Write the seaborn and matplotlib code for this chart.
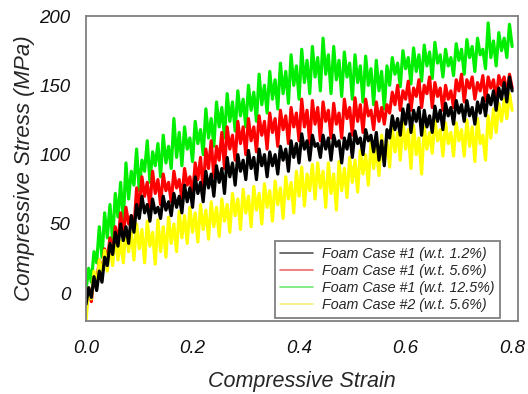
import numpy as np
import pandas as pd
import matplotlib
matplotlib.use("Agg")
import matplotlib.pyplot as plt
from matplotlib.lines import Line2D
import seaborn as sns

# ---------------- data (step 0.005 strain) ----------------
labels = ["Foam Case #1 (w.t. 1.2%)", "Foam Case #1 (w.t. 5.6%)",
          "Foam Case #1 (w.t. 12.5%)", "Foam Case #2 (w.t. 5.6%)"]

stress_green = [
    2, 18, 8, 30, 22, 48, 26, 58, 40, 64,
    38, 72, 55, 80, 52, 94, 68, 88, 78, 104,
    74, 96, 88, 110, 80, 102, 92, 108, 84, 114,
    94, 106, 90, 126, 98, 116, 92, 120, 104, 112,
    95, 124, 108, 118, 100, 133, 112, 126, 106, 138,
    120, 134, 112, 144, 124, 138, 117, 146, 128, 140,
    120, 150, 132, 145, 124, 158, 136, 150, 130, 160,
    140, 154, 133, 166, 144, 160, 137, 172, 150, 164,
    140, 176, 152, 168, 144, 178, 156, 170, 146, 184,
    158, 172, 144, 178, 154, 168, 142, 174, 156, 166,
    140, 172, 152, 164, 138, 171, 150, 162, 136, 168,
    146, 160, 133, 164, 150, 170, 158, 166, 149, 175,
    162, 170, 151, 177, 160, 172, 153, 179, 164, 174,
    155, 181, 166, 172, 156, 176, 164, 170, 157, 180,
    168, 176, 158, 183, 170, 178, 160, 184, 172, 176,
    162, 195, 170, 182, 164, 188, 175, 184, 170, 194,
    178]

stress_red = [
    -14, 4, -6, 14, 8, 24, 14, 32, 24, 40,
    28, 48, 36, 58, 40, 62, 50, 56, 46, 76,
    60, 84, 70, 80, 62, 88, 72, 82, 64, 86,
    74, 80, 66, 88, 76, 82, 68, 90, 78, 84,
    70, 94, 82, 98, 74, 104, 90, 110, 84, 106,
    96, 116, 90, 120, 104, 114, 96, 124, 108, 120,
    100, 126, 110, 120, 102, 128, 114, 124, 104, 130,
    116, 126, 106, 132, 118, 128, 108, 134, 120, 130,
    110, 140, 120, 132, 108, 139, 122, 134, 110, 138,
    124, 132, 112, 137, 122, 130, 112, 140, 126, 134,
    114, 141, 124, 136, 116, 140, 128, 132, 118, 138,
    124, 134, 122, 136, 130, 145, 136, 150, 132, 146,
    140, 153, 132, 148, 142, 154, 134, 150, 144, 156,
    134, 152, 142, 148, 132, 150, 140, 146, 134, 154,
    146, 158, 138, 154, 148, 156, 140, 152, 146, 157,
    139, 156, 148, 154, 140, 157, 150, 156, 143, 158,
    148]

stress_black = [
    -8, 4, -3, 12, 2, 16, 8, 26, 20, 36,
    28, 44, 34, 50, 38, 48, 36, 56, 44, 64,
    54, 70, 58, 64, 52, 68, 58, 62, 54, 70,
    60, 66, 56, 72, 62, 70, 58, 78, 66, 76,
    62, 84, 72, 80, 66, 88, 76, 86, 70, 92,
    80, 90, 72, 98, 84, 94, 78, 100, 88, 96,
    82, 103, 90, 98, 82, 104, 92, 100, 84, 102,
    92, 100, 86, 106, 96, 104, 88, 110, 98, 108,
    94, 115, 104, 110, 96, 114, 106, 108, 98, 114,
    104, 112, 96, 114, 106, 110, 94, 112, 104, 115,
    98, 117, 108, 112, 100, 118, 110, 114, 102, 116,
    96, 110, 92, 118, 112, 128, 118, 126, 114, 133,
    122, 136, 116, 132, 124, 134, 114, 132, 120, 128,
    116, 135, 124, 132, 118, 137, 128, 134, 122, 139,
    130, 136, 124, 139, 128, 134, 122, 138, 130, 141,
    128, 143, 136, 146, 132, 148, 140, 152, 138, 156,
    146]

stress_yellow = [
    -20, 4, -4, 16, 4, 24, 12, 31, 16, 36,
    20, 42, 24, 38, 22, 47, 30, 44, 24, 50,
    32, 46, 22, 52, 34, 44, 21, 53, 30, 48,
    26, 55, 36, 50, 30, 59, 40, 56, 36, 62,
    44, 58, 37, 64, 46, 60, 39, 66, 48, 62,
    41, 68, 52, 64, 44, 72, 56, 68, 46, 75,
    58, 70, 48, 77, 60, 72, 50, 79, 62, 74,
    52, 81, 64, 76, 54, 84, 68, 80, 58, 88,
    70, 91, 63, 86, 74, 93, 68, 94, 76, 88,
    62, 94, 72, 86, 60, 95, 74, 90, 69, 98,
    80, 96, 73, 103, 86, 100, 78, 109, 90, 104,
    85, 114, 96, 110, 91, 120, 102, 116, 96, 125,
    104, 118, 90, 121, 100, 112, 86, 120, 104, 116,
    101, 125, 110, 118, 99, 123, 108, 116, 99, 123,
    110, 118, 99, 125, 106, 120, 95, 126, 108, 114,
    96, 128, 112, 133, 116, 137, 124, 140, 126, 144,
    132]

x_ticks = [0.0, 0.2, 0.4, 0.6, 0.8]
y_ticks = [0, 50, 100, 150, 200]

series = {
    labels[2]: stress_green,
    labels[1]: stress_red,
    labels[3]: stress_yellow,
    labels[0]: stress_black,
}
colors = {labels[0]: "#000000", labels[1]: "#ff0000",
          labels[2]: "#00ee00", labels[3]: "#ffff00"}
legend_colors = {labels[0]: "#555555", labels[1]: "#f26a6a",
                 labels[2]: "#6ee66e", labels[3]: "#f5f07a"}

frames = []
for name, vals in series.items():
    strain = np.linspace(0.0, 0.8, len(vals))
    frames.append(pd.DataFrame({"strain": strain, "stress": vals, "case": name}))
df = pd.concat(frames, ignore_index=True)

# ---------------- plot ----------------
sns.set_style("white")
plt.rcParams["font.family"] = ["Liberation Sans", "DejaVu Sans"]

fig = plt.figure(figsize=(5.28, 3.94), dpi=100)
ax = fig.add_axes([86 / 528, 1 - 321 / 394, 432 / 528, 305 / 394])

for name in series:
    sub = df[df["case"] == name]
    sns.lineplot(data=sub, x="strain", y="stress", ax=ax, color=colors[name],
                 linewidth=2.3, estimator=None, sort=False, legend=False)

ax.set_xlim(0.0, 0.811)
ax.set_ylim(-20, 200)
ax.set_xticks(x_ticks)
ax.set_xticklabels([f"{v:.1f}" for v in x_ticks])
ax.set_yticks(y_ticks)
ax.set_yticklabels([str(v) for v in y_ticks])

for lab in ax.get_xticklabels() + ax.get_yticklabels():
    lab.set_fontstyle("italic")
    lab.set_fontsize(13.5)
    lab.set_color("#111111")

ax.tick_params(axis="x", direction="out", length=5, width=1, color="#808080", pad=9)
ax.tick_params(axis="y", direction="out", length=5, width=1, color="#808080", pad=6)

for sp in ax.spines.values():
    sp.set_color("#808080")
    sp.set_linewidth(1.3)
    sp.set_visible(True)

ax.set_xlabel("Compressive Strain", fontsize=15.5, fontstyle="italic", labelpad=10)
ax.set_ylabel("Compressive Stress (MPa)", fontsize=16, fontstyle="italic", labelpad=3)

handles = [Line2D([0], [0], color=legend_colors[n], lw=1.2) for n in labels]
leg = ax.legend(handles, labels, loc="lower right", bbox_to_anchor=(500 / 528, 1 - 318 / 394),
                bbox_transform=fig.transFigure, fontsize=10.3, frameon=True, fancybox=False,
                edgecolor="#808080", framealpha=1, borderpad=0.4, labelspacing=0.22,
                handlelength=2.3, handletextpad=0.6, borderaxespad=0)
leg.get_frame().set_linewidth(1.3)
for t in leg.get_texts():
    t.set_fontstyle("italic")

fig.savefig("out.png", dpi=100)
